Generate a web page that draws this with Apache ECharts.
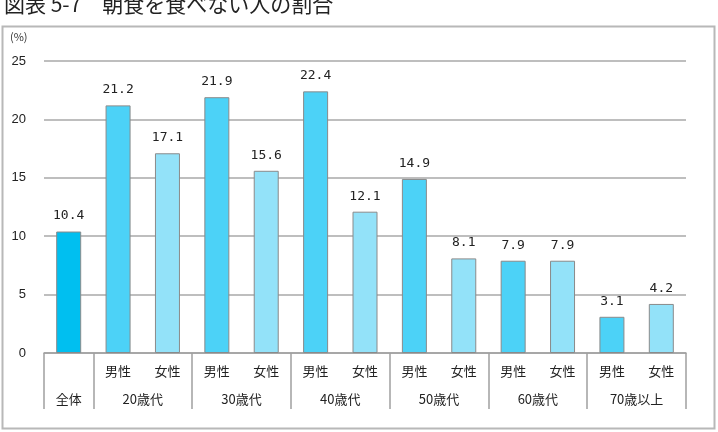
<!DOCTYPE html>
<html lang="ja">
<head>
<meta charset="UTF-8">
<title>朝食を食べない人の割合</title>
<script src="https://cdn.jsdelivr.net/npm/echarts@6/dist/echarts.min.js"></script>
<style>
  html, body { margin: 0; padding: 0; background: #fff; }
  #main { width: 718px; height: 432px; }
</style>
</head>
<body>
<div id="main"></div>
<script>
// 値（%）
var categories = ['全体', '男性', '女性', '男性', '女性', '男性', '女性', '男性', '女性', '男性', '女性', '男性', '女性'];
var values = [10.4, 21.2, 17.1, 21.9, 15.6, 22.4, 12.1, 14.9, 8.1, 7.9, 7.9, 3.1, 4.2];
var groupNames = ['全体', '20歳代', '30歳代', '40歳代', '50歳代', '60歳代', '70歳以上'];
var groupLabelAt = [0.5, 2, 4, 6, 8, 10, 12];
var groupEdges = [0, 1, 3, 5, 7, 9, 11, 13];

var colAll = '#00bff0', colMale = '#4cd2f7', colFemale = '#93e2f9';

var chart = echarts.init(document.getElementById('main'));

var seriesData = values.map(function (v, i) {
    var c = i === 0 ? colAll : (i % 2 === 1 ? colMale : colFemale);
    return { value: v, itemStyle: { color: c } };
});

var labelFont = '"Noto Sans CJK JP", sans-serif';

chart.setOption({
    animation: false,
    backgroundColor: '#fff',
    title: {
        text: '図表 5-7　朝食を食べない人の割合',
        left: -1,
        top: -11,
        textStyle: { fontSize: 21, fontWeight: 'normal', color: '#222', fontFamily: labelFont }
    },
    graphic: [{
        type: 'rect',
        shape: { x: 2.5, y: 26.5, width: 712, height: 402 },
        style: { fill: null, stroke: '#b8b8b8', lineWidth: 2 },
        z: -1
    }, {
        type: 'text',
        left: 10,
        top: 31,
        style: { text: '(%)', fontSize: 11, fill: '#333', fontFamily: labelFont }
    }],
    grid: { left: 44, right: 32, top: 61, bottom: 79 },
    xAxis: [{
        type: 'category',
        data: categories,
        position: 'bottom',
        axisLine: { lineStyle: { color: '#a0a0a0', width: 1.5 } },
        axisTick: { show: false },
        axisLabel: {
            margin: 12,
            fontSize: 13,
            color: '#222',
            fontFamily: labelFont,
            formatter: function (v, i) { return i === 0 ? '' : v; }
        }
    }, {
        type: 'value',
        min: 0,
        max: 13,
        position: 'bottom',
        axisLine: { show: false },
        splitLine: { show: false },
        axisTick: {
            show: true,
            length: 56,
            customValues: groupEdges,
            lineStyle: { color: '#a0a0a0', width: 1.5 }
        },
        axisLabel: {
            show: true,
            margin: 40,
            fontSize: 13,
            color: '#222',
            fontFamily: labelFont,
            customValues: groupLabelAt,
            formatter: function (v) {
                var idx = groupLabelAt.indexOf(v);
                return idx >= 0 ? groupNames[idx] : '';
            }
        }
    }],
    yAxis: {
        type: 'value',
        min: 0,
        max: 25,
        interval: 5,
        axisLine: { show: false },
        axisTick: { show: false },
        axisLabel: { margin: 18, fontSize: 13, color: '#222', fontFamily: '"Liberation Sans", sans-serif' },
        splitLine: { lineStyle: { color: '#a8a8a8', width: 1.5 } }
    },
    series: [{
        type: 'bar',
        xAxisIndex: 0,
        data: seriesData,
        barWidth: 25,
        itemStyle: { borderColor: '#8a8a8a', borderWidth: 1 },
        label: {
            show: true,
            position: 'top',
            distance: 9,
            fontSize: 13,
            color: '#222',
            fontFamily: '"DejaVu Sans Mono", monospace',
            formatter: function (p) { return p.value.toFixed(1); }
        }
    }]
});
</script>
</body>
</html>
